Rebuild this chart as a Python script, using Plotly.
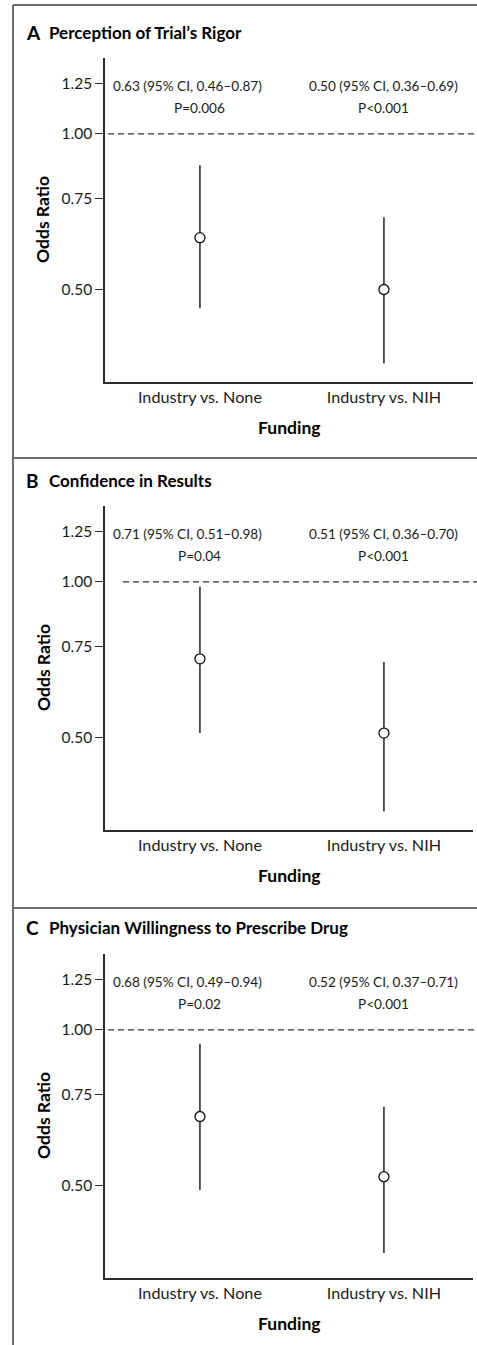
import plotly.graph_objects as go

W, H = 477, 1345

panel_letters = ["A", "B", "C"]
panel_titles = ["Perception of Trial’s Rigor", "Confidence in Results",
                "Physician Willingness to Prescribe Drug"]
comparisons = ["Industry vs. None", "Industry vs. NIH"]
odds_ratios = [[0.63, 0.50], [0.71, 0.51], [0.68, 0.52]]
ci_low = [[0.46, 0.36], [0.51, 0.36], [0.49, 0.37]]
ci_high = [[0.87, 0.69], [0.98, 0.70], [0.94, 0.71]]
p_values = [["P=0.006", "P<0.001"], ["P=0.04", "P<0.001"], ["P=0.02", "P<0.001"]]
y_ticks = [0.50, 0.75, 1.00, 1.25]
y_tick_labels = ["0.50", "0.75", "1.00", "1.25"]
x_title = "Funding"
y_title = "Odds Ratio"

FONT = "Lato"
TXT = "#1a1a1a"
AX = "#2b2b2b"
FRAME = "#6e6e6e"


def pxx(x):
    return x / W


def pxy(y):
    return 1 - y / H


PANEL_STEP = 448
dash_start = [108, 123, 108]

fig = go.Figure()
annotations = []
shapes = []
layout_axes = {}

for i in range(3):
    off = PANEL_STEP * i
    xa = "x" if i == 0 else f"x{i+1}"
    ya = "y" if i == 0 else f"y{i+1}"
    xk = "xaxis" if i == 0 else f"xaxis{i+1}"
    yk = "yaxis" if i == 0 else f"yaxis{i+1}"

    ors = odds_ratios[i]
    # confidence-interval whiskers
    wx, wy = [], []
    for j in range(len(comparisons)):
        wx += [j, j, None]
        wy += [ci_low[i][j], ci_high[i][j], None]
    fig.add_trace(go.Scatter(
        x=wx, y=wy, mode="lines", xaxis=xa, yaxis=ya,
        line=dict(color="#222222", width=1.5),
        showlegend=False, hoverinfo="skip", cliponaxis=False,
    ))
    # point estimates
    fig.add_trace(go.Scatter(
        x=list(range(len(comparisons))), y=ors,
        mode="markers", xaxis=xa, yaxis=ya,
        marker=dict(symbol="circle", size=10, color="white",
                    line=dict(color="#111111", width=1.3)),
        showlegend=False, cliponaxis=False, hoverinfo="skip",
    ))

    layout_axes[xk] = dict(
        domain=[pxx(105), pxx(473)],
        range=[-0.516, 1.484],
        tickvals=list(range(len(comparisons))), ticktext=comparisons,
        showline=True, linecolor=AX, linewidth=1.5,
        showgrid=False, zeroline=False, ticks="",
        tickfont=dict(family=FONT, size=16.2, color=TXT),
        anchor=ya, fixedrange=True,
    )
    layout_axes[yk] = dict(
        domain=[pxy(382 + off), pxy(58 + off)],
        type="log",
        range=[-0.480, 0.147],
        tickvals=y_ticks, ticktext=y_tick_labels,
        showline=True, linecolor=AX, linewidth=1.5,
        ticks="outside", ticklen=8, tickwidth=1.2, tickcolor=AX,
        showgrid=False, zeroline=False,
        tickfont=dict(family=FONT, size=15.5, color=TXT),
        anchor=xa, fixedrange=True,
    )

    # reference line at OR = 1
    shapes.append(dict(type="line", xref="paper", yref=ya,
                       x0=pxx(dash_start[i]), x1=1, y0=1.0, y1=1.0,
                       line=dict(color="#333333", width=1.2, dash="6px,4px")))

    # titles
    annotations.append(dict(text=f"<b>{panel_letters[i]}</b>", xref="paper", yref="paper",
                            x=pxx(24), y=pxy(32 + off), xanchor="left", yanchor="middle",
                            showarrow=False, font=dict(family=FONT, size=19, color="#000")))
    annotations.append(dict(text=f"<b>{panel_titles[i]}</b>", xref="paper", yref="paper",
                            x=pxx(47), y=pxy(32 + off), xanchor="left", yanchor="middle",
                            showarrow=False, font=dict(family=FONT, size=17, color="#000")))
    # axis titles
    annotations.append(dict(text=f"<b>{y_title}</b>", xref="paper", yref="paper",
                            x=pxx(43), y=pxy(220 + off), xanchor="center", yanchor="middle",
                            textangle=-90, showarrow=False,
                            font=dict(family=FONT, size=17.5, color="#000")))
    annotations.append(dict(text=f"<b>{x_title}</b>", xref="paper", yref="paper",
                            x=pxx(289), y=pxy(427 + off), xanchor="center", yanchor="middle",
                            showarrow=False, font=dict(family=FONT, size=17.5, color="#000")))
    # estimate labels
    for j in range(len(comparisons)):
        line1 = f"{ors[j]:.2f} (95% CI, {ci_low[i][j]:.2f}–{ci_high[i][j]:.2f})"
        annotations.append(dict(text=line1, xref=xa, yref="paper",
                                x=j, y=pxy(86 + off), xanchor="center", yanchor="middle",
                                xshift=-12 if j == 0 else 0,
                                showarrow=False, font=dict(family=FONT, size=13.6, color=TXT)))
        annotations.append(dict(text=p_values[i][j], xref=xa, yref="paper",
                                x=j, y=pxy(108 + off), xanchor="center", yanchor="middle",
                                showarrow=False, font=dict(family=FONT, size=13.6, color=TXT)))

# outer frame
shapes.append(dict(type="line", xref="paper", yref="paper", x0=pxx(13), x1=pxx(13),
                   y0=pxy(5), y1=0, line=dict(color=FRAME, width=2)))
for yy in [5, 458, 908]:
    shapes.append(dict(type="line", xref="paper", yref="paper", x0=pxx(13), x1=1,
                       y0=pxy(yy), y1=pxy(yy), line=dict(color=FRAME, width=2)))

fig.update_layout(
    width=W, height=H,
    margin=dict(l=0, r=0, t=0, b=0),
    paper_bgcolor="white", plot_bgcolor="white",
    font=dict(family=FONT, color=TXT),
    annotations=annotations, shapes=shapes,
    showlegend=False,
    **layout_axes,
)

fig.write_html("out.html", config={"displayModeBar": False},
               post_script="document.body.style.margin='0';document.body.style.overflow='hidden';")
